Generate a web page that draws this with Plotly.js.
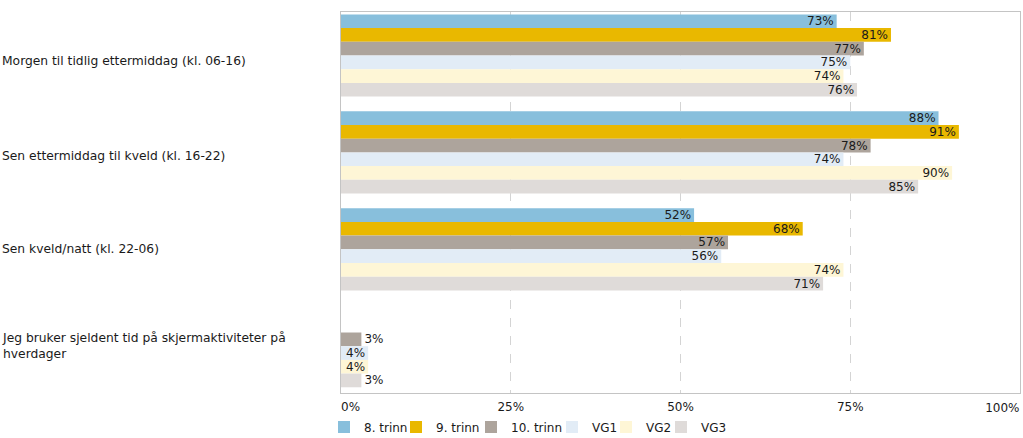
<!DOCTYPE html>
<html>
<head>
<meta charset="utf-8">
<script src="https://cdn.plot.ly/plotly-3.0.1.min.js"></script>
<style>
  html, body { margin: 0; padding: 0; background: #fff; }
  #chart { width: 1023px; height: 438px; }
</style>
</head>
<body>
<div id="chart"></div>
<script>
const categories = [
  "Morgen til tidlig ettermiddag (kl. 06-16)",
  "Sen ettermiddag til kveld (kl. 16-22)",
  "Sen kveld/natt (kl. 22-06)",
  "Jeg bruker sjeldent tid på skjermaktiviteter på<br>hverdager"
];
const seriesNames = ["8. trinn", "9. trinn", "10. trinn", "VG1", "VG2", "VG3"];
const trinn8  = [73, 88, 52, null];
const trinn9  = [81, 91, 68, null];
const trinn10 = [77, 78, 57, 3];
const vg1     = [75, 74, 56, 4];
const vg2     = [74, 90, 74, 4];
const vg3     = [76, 85, 71, 3];
const tickVals = [0, 25, 50, 75, 100];
const tickText = ["0%", "25%", "50%", "75%", "100%"];

const seriesValues = [trinn8, trinn9, trinn10, vg1, vg2, vg3];

// styling
const colors = ["#88bfdc", "#e9b800", "#ada49c", "#e2ecf6", "#fef6d6", "#dfdbd9"];
const legendWidths = [27, 30, 36, 9, 10, 30];
const labelShift = [-5.5, -4, 0, 0];
const FONT = "DejaVu Sans, Verdana, sans-serif";
const TXT = "#1a1a1a";

const traces = seriesNames.map((name, i) => {
  const vals = seriesValues[i];
  return {
    type: "bar",
    orientation: "h",
    name: name,
    y: categories,
    x: vals,
    text: vals.map(v => v == null ? "" : v + "%"),
    textposition: vals.map(v => (v != null && v < 4) ? "outside" : "inside"),
    insidetextanchor: "end",
    constraintext: "none",
    textangle: 0,
    textfont: { family: FONT, size: 12, color: TXT },
    marker: { color: colors[i], line: { width: 0 } },
    legendwidth: legendWidths[i],
    hoverinfo: "x+name",
    cliponaxis: false
  };
});

// empty helper trace so the secondary x axis (holding the right-aligned last tick label) is drawn
traces.push({
  type: "scatter", mode: "markers",
  x: [], y: [],
  xaxis: "x2", yaxis: "y",
  showlegend: false, hoverinfo: "skip"
});

const nb = n => "&nbsp;".repeat(n);
const lastIdx = tickVals.length - 1;
const mainVals = tickVals.slice(0, lastIdx);
const mainText = tickText.slice(0, lastIdx).map((t, i) => i === 0 ? nb(5) + t : t);

const W = 1023, H = 438;
const plotLeft = 341, plotRight = 1020, plotTop = 12, plotBottom = 393;
const plotW = plotRight - plotLeft;

const annotations = categories.map((c, i) => ({
  xref: "paper", yref: "y",
  x: -plotLeft / plotW, y: c,
  xanchor: "left", yanchor: "middle",
  align: "left",
  yshift: labelShift[i],
  text: c,
  showarrow: false,
  font: { family: FONT, size: 12.3, color: TXT }
}));

const axisCommon = {
  range: [0, 100],
  zeroline: false,
  ticks: "outside",
  tickcolor: "rgba(0,0,0,0)",
  automargin: false,
  tickfont: { family: FONT, size: 12, color: TXT },
  fixedrange: true
};

const layout = {
  width: W, height: H,
  margin: { l: plotLeft, r: W - plotRight, t: plotTop, b: H - plotBottom, pad: 0, autoexpand: false },
  paper_bgcolor: "#ffffff",
  plot_bgcolor: "#ffffff",
  barmode: "group",
  bargap: 0.152,
  bargroupgap: 0,
  showlegend: true,
  font: { family: FONT, size: 12, color: TXT },
  xaxis: Object.assign({}, axisCommon, {
    tickvals: mainVals,
    ticktext: mainText,
    ticklen: 3,
    showgrid: true,
    gridcolor: "#d4d4d4",
    griddash: "dash",
    gridwidth: 1,
    showline: true,
    linecolor: "#c4c4c4",
    linewidth: 1,
    mirror: true
  }),
  xaxis2: Object.assign({}, axisCommon, {
    overlaying: "x",
    anchor: "y",
    side: "bottom",
    tickvals: [tickVals[lastIdx]],
    ticktext: [tickText[lastIdx]],
    ticklabelposition: "outside left",
    ticklen: 3,
    ticklabelstandoff: 4,
    showgrid: false,
    showline: false
  }),
  yaxis: {
    type: "category",
    range: [3.483, -0.449],
    showticklabels: false,
    showgrid: false,
    zeroline: false,
    showline: true,
    linecolor: "#c4c4c4",
    linewidth: 1,
    mirror: true,
    ticks: "",
    automargin: false,
    fixedrange: true
  },
  legend: {
    orientation: "h",
    xref: "container", yref: "container",
    x: 324 / W, xanchor: "left",
    y: (H - 427) / H, yanchor: "middle",
    traceorder: "normal",
    font: { family: FONT, size: 12, color: TXT },
    itemwidth: 30,
    tracegroupgap: 0,
    bgcolor: "rgba(0,0,0,0)"
  },
  annotations: annotations
};

Plotly.newPlot("chart", traces, layout, { displayModeBar: false, staticPlot: true });
</script>
</body>
</html>
